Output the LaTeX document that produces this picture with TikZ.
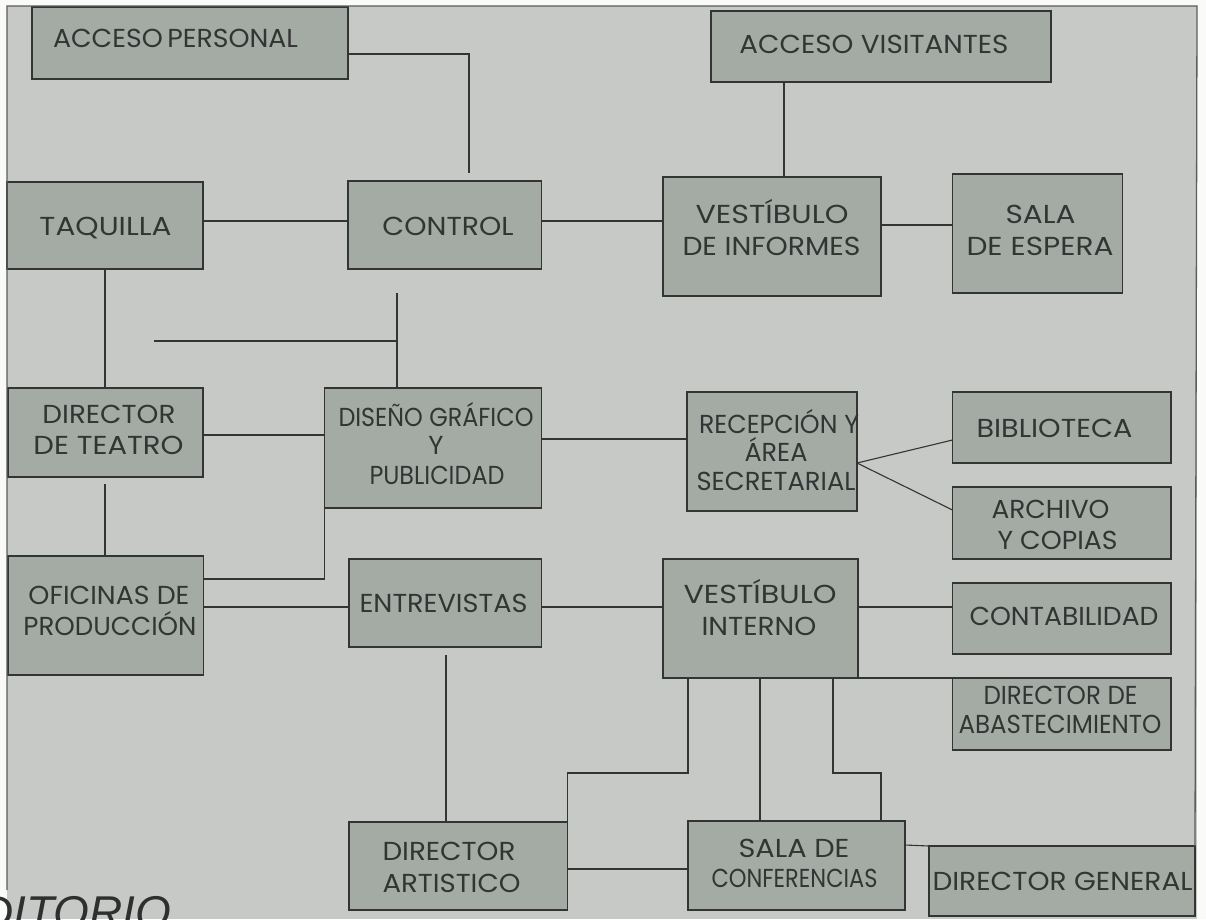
\documentclass[tikz,border=0pt]{standalone}
\usepackage{fontspec}
\usepackage{graphicx}
\setmainfont{Poppins}
\newfontfamily\titlefont{Liberation Sans}
\definecolor{paper}{HTML}{FAFAF8}
\definecolor{panel}{HTML}{C6C9C6}
\definecolor{boxfill}{HTML}{A4ABA5}
\definecolor{ink}{HTML}{333535}
\newcommand\fitw[2]{\resizebox{#1pt}{\height}{#2}}
\tikzset{
  box/.style={draw=ink, line width=1.1pt, fill=boxfill, inner sep=0pt, outer sep=0pt},
  lbl/.style={anchor=base, inner sep=0pt, text=ink, font=\fontsize{26}{30}\selectfont},
  link/.style={draw=ink, line width=1.1pt},
  frame/.style={draw=ink!80, line width=1.3pt}
}
\begin{document}
\begin{tikzpicture}[x=1pt, y=-1pt]
% sheet and panel
\path[fill=paper] (0,0) rectangle (1206,919);
\useasboundingbox (0,0) rectangle (1206,919);
\path[fill=panel] (7,6) rectangle (1197,919);

% rooms
\node[box, minimum width=316pt,   minimum height=72pt]  (accp)  at (190,43) {};
\node[box, minimum width=196pt,   minimum height=87pt]  (taq)   at (105,225.5) {};
\node[box, minimum width=193.5pt, minimum height=88pt]  (ctrl)  at (444.75,225) {};
\node[box, minimum width=340pt,   minimum height=71pt]  (accv)  at (881,46.5) {};
\node[box, minimum width=218pt,   minimum height=119pt] (vinf)  at (772,236.5) {};
\node[box, minimum width=170pt,   minimum height=119pt] (sesp)  at (1037.5,233.5) {};
\node[box, minimum width=195pt,   minimum height=89pt]  (dteat) at (105.5,432.5) {};
\node[box, minimum width=217pt,   minimum height=120pt] (dise)  at (433,448) {};
\node[box, minimum width=170pt,   minimum height=119pt] (recep) at (772,451.5) {};
\node[box, minimum width=218.5pt, minimum height=71pt]  (bibl)  at (1061.75,427.5) {};
\node[box, minimum width=218.5pt, minimum height=72pt]  (arch)  at (1061.75,523) {};
\node[box, minimum width=195.6pt, minimum height=119pt] (ofic)  at (105.8,615.5) {};
\node[box, minimum width=192.5pt, minimum height=88pt]  (entr)  at (445.25,603) {};
\node[box, minimum width=195pt,   minimum height=119pt] (vint)  at (760.5,618.5) {};
\node[box, minimum width=218.5pt, minimum height=71pt]  (cont)  at (1061.75,618.5) {};
\node[box, minimum width=218.5pt, minimum height=72pt]  (abas)  at (1061.75,714) {};
\node[box, minimum width=218.5pt, minimum height=88pt]  (dart)  at (458.25,866) {};
\node[box, minimum width=217pt,   minimum height=89pt]  (sconf) at (796.5,865.5) {};
\node[box, minimum width=266pt,   minimum height=70pt]  (dgen)  at (1062,881) {};

% panel frame
\draw[frame] (7,890) -- (7,6) -- (1197,6) -- (dgen.north east);

% labels
\node[lbl] (t1)  at (175.5,47)  {\fitw{245}{ACCESO\,PERSONAL}};
\node[lbl] (t2)  at (105.5,235) {\fitw{132}{TAQUILLA}};
\node[lbl] (t3)  at (448,235)   {\fitw{131}{CONTROL}};
\node[lbl] (t4)  at (874,53)    {\fitw{269}{ACCESO VISITANTES}};
\node[lbl] (t5)  at (772,223)   {\fitw{153}{VESTÍBULO}};
\node[lbl] (t6)  at (771.5,255) {\fitw{178}{DE INFORMES}};
\node[lbl] (t7)  at (1040.5,223){\fitw{70}{SALA}};
\node[lbl] (t8)  at (1040,255)  {\fitw{147}{DE ESPERA}};
\node[lbl] (t9)  at (109,423)   {\fitw{133}{DIRECTOR}};
\node[lbl] (t10) at (108.5,454) {\fitw{150}{DE TEATRO}};
\node[lbl] (t11) at (436,426)   {\fitw{195}{DISEÑO GRÁFICO}};
\node[lbl] (t12) at (436,454)   {Y};
\node[lbl] (t13) at (437,484)   {\fitw{135}{PUBLICIDAD}};
\node[lbl] (t14) at (779,433)   {\fitw{160}{RECEPCIÓN Y}};
\node[lbl] (t15) at (776,461)   {\fitw{63}{ÁREA}};
\node[lbl] (t16) at (776,490)   {\fitw{159}{SECRETARIAL}};
\node[lbl] (t17) at (1054.5,437){\fitw{156}{BIBLIOTECA}};
\node[lbl] (t18) at (1050.5,518){\fitw{118}{ARCHIVO}};
\node[lbl] (t19) at (1057.5,549){\fitw{120}{Y COPIAS}};
\node[lbl] (t20) at (109,604)   {\fitw{161}{OFICINAS DE}};
\node[lbl] (t21) at (110,635)   {\fitw{173}{PRODUCCIÓN}};
\node[lbl] (t22) at (443.5,612) {\fitw{168}{ENTREVISTAS}};
\node[lbl] (t23) at (760,603)   {\fitw{153}{VESTÍBULO}};
\node[lbl] (t24) at (759,635)   {\fitw{115}{INTERNO}};
\node[lbl] (t25) at (1064,625)  {\fitw{189}{CONTABILIDAD}};
\node[lbl] (t26) at (1060.5,704){\fitw{154}{DIRECTOR DE}};
\node[lbl] (t27) at (1060,733)  {\fitw{203}{ABASTECIMIENTO}};
\node[lbl] (t28) at (449,860)   {\fitw{133}{DIRECTOR}};
\node[lbl] (t29) at (451.5,892) {\fitw{138}{ARTISTICO}};
\node[lbl] (t30) at (794,857)   {\fitw{111}{SALA DE}};
\node[lbl] (t31) at (794.5,887) {\fitw{166}{CONFERENCIAS}};
\node[lbl] (t32) at (1062.5,890){\fitw{260}{DIRECTOR GENERAL}};

% heading of the next sheet, cut by the page edge
\node[anchor=base west, inner sep=0pt, text=ink!90!black,
      font=\titlefont\itshape\fontsize{46}{50}\selectfont] (title) at (-20,928) {DITORIO};

% reference levels for the connectors
\coordinate (h54)  at (0,54);
\coordinate (h221) at (0,221);
\coordinate (h225) at (0,225);
\coordinate (h435) at (0,435);
\coordinate (h439) at (0,439);
\coordinate (h440) at (0,440);
\coordinate (h463) at (0,463);
\coordinate (h510) at (0,510);
\coordinate (h579) at (0,579);
\coordinate (h607) at (0,607);
\coordinate (h773) at (0,773);
\coordinate (h845) at (0,845);
\coordinate (h869) at (0,869);
\coordinate (v105) at (105,0);
\coordinate (v446) at (446,0);
\coordinate (v688) at (688,0);
\coordinate (v760) at (760,0);
\coordinate (v784) at (784,0);
\coordinate (v833) at (833,0);
\coordinate (v881) at (881,0);

% loose ends
\coordinate (ctrlin)  at (469,173);
\coordinate (dtop)    at (397,293);
\coordinate (hleft)   at (154,341);
\coordinate (dtlow)   at (105,484);
\coordinate (entlow)  at (446,655);

% connectors
\draw[link] (accp.east |- h54) -| (ctrlin);
\draw[link] (taq.east |- h221) -- (ctrl.west |- h221);
\draw[link] (ctrl.east |- h221) -- (vinf.west |- h221);
\draw[link] (accv.south -| v784) -- (vinf.north -| v784);
\draw[link] (vinf.east |- h225) -- (sesp.west |- h225);
\draw[link] (taq.south -| v105) -- (dteat.north -| v105);
\draw[link] (dtop) -- (dtop |- dise.north);
\draw[link] (hleft) -- (hleft -| dtop);
\draw[link] (dteat.east |- h435) -- (dise.west |- h435);
\draw[link] (dise.east |- h439) -- (recep.west |- h439);
\draw[link] (recep.east |- h463) -- (bibl.west |- h440);
\draw[link] (recep.east |- h463) -- (arch.west |- h510);
\draw[link] (dtlow) -- (ofic.north -| v105);
\draw[link] (ofic.east |- h579) -| (dise.south west);
\draw[link] (ofic.east |- h607) -- (entr.west |- h607);
\draw[link] (entr.east |- h607) -- (vint.west |- h607);
\draw[link] (vint.east |- h607) -- (cont.west |- h607);
\draw[link] (vint.south east) -- (abas.north west);
\draw[link] (entlow) -- (dart.north -| v446);
\draw[link] (vint.south -| v688) |- (dart.north east |- h773) -- (dart.north east);
\draw[link] (vint.south -| v760) -- (sconf.north -| v760);
\draw[link] (vint.south -| v833) |- (v881 |- h773) -- (sconf.north -| v881);
\draw[link] (dart.east |- h869) -- (sconf.west |- h869);
\draw[link] (sconf.east |- h845) -- (dgen.north west);
\end{tikzpicture}
\end{document}
